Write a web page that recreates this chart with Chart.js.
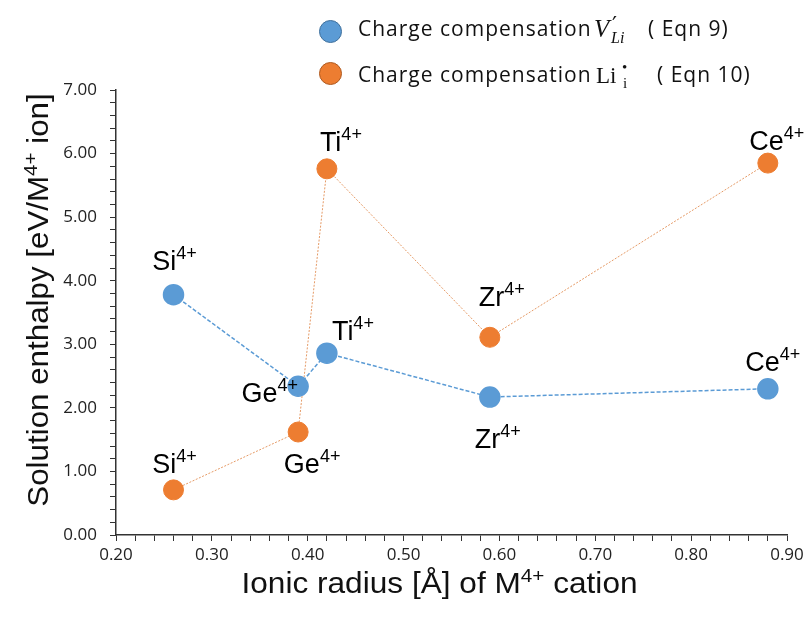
<!DOCTYPE html>
<html><head><meta charset="utf-8">
<script src="https://cdn.jsdelivr.net/npm/chart.js@4.4.1/dist/chart.umd.min.js"></script>
<style>
html,body{margin:0;padding:0;background:#fff;}
#wrap{position:relative;width:808px;height:623px;overflow:hidden;background:#fff;}
canvas{position:absolute;left:0;top:0;}
.lg{position:absolute;font-family:"Open Sans";font-size:21px;color:#111;white-space:nowrap;line-height:1;letter-spacing:1px;}
.dot{position:absolute;width:23px;height:23px;border-radius:50%;box-sizing:border-box;}
.m{position:absolute;font-family:"Liberation Serif";color:#111;white-space:nowrap;line-height:1;}
</style></head>
<body><div id="wrap"><canvas id="c" width="808" height="623"></canvas>
<div class="dot" style="left:319px;top:20px;background:#5B9BD5;border:1px solid #41719C;"></div>
<div class="dot" style="left:319px;top:62px;background:#ED7D31;border:1px solid #AE5A21;"></div>
<div class="lg" style="left:358px;top:18px;">Charge compensation</div>
<div class="m" style="left:594px;top:16px;font-size:25px;font-style:italic;">V</div>
<div class="m" style="left:612px;top:14px;font-size:22px;font-family:'DejaVu Sans';">′</div>
<div class="m" style="left:611px;top:30px;font-size:16px;font-style:italic;">Li</div>
<div class="lg" style="left:648px;top:18px;">( Eqn 9)</div>
<div class="lg" style="left:358px;top:64px;">Charge compensation</div>
<div class="m" style="left:596px;top:64px;font-size:23px;">Li</div>
<div class="m" style="left:623px;top:76px;font-size:15px;">i</div>
<div class="m" style="left:622px;top:60px;font-size:15px;">•</div>
<div class="lg" style="left:657px;top:64px;">( Eqn 10)</div>
</div>
<script>
// ---- data ----
const ions = ['Si', 'Ge', 'Ti', 'Zr', 'Ce'];
const ionicRadius = [0.26, 0.39, 0.42, 0.59, 0.88];
const enthalpyVacancy = [3.78, 2.34, 2.86, 2.17, 2.30];      // Eqn 9
const enthalpyInterstitial = [0.71, 1.62, 5.76, 3.11, 5.85]; // Eqn 10
const xTickMin = 0.2, xTickMax = 0.9, xMajorStep = 0.1, xMinorStep = 0.02;
const yTickMin = 0, yTickMax = 7, yMajorStep = 1, yMinorStep = 0.2;

// label placement (style only): [dx, dy, align]
const vacLabelPos = [[1,-25,'center'],[0,16,'right'],[5,-13,'left'],[8,51,'center'],[5,-18,'center']];
const intLabelPos = [[1,-17,'center'],[14,41,'center'],[14,-18,'center'],[12,-31,'center'],[9,-13,'center']];

const toPts = (xs, ys) => xs.map((x, i) => ({x, y: ys[i]}));
const isMajor = (v, step) => Math.abs(v / step - Math.round(v / step)) < 1e-6;

function drawRich(ctx, parts, x, y, align, sx) {
  let w = 0;
  parts.forEach(p => { ctx.font = p.font; p.w = ctx.measureText(p.t).width; w += p.w; });
  w *= sx;
  let start = align === 'center' ? x - w / 2 : align === 'right' ? x - w : x;
  ctx.save();
  ctx.translate(start, y);
  ctx.scale(sx, 1);
  let cx = 0;
  parts.forEach(p => {
    ctx.font = p.font; ctx.textAlign = 'left'; ctx.textBaseline = 'alphabetic';
    ctx.fillText(p.t, cx, p.dy || 0); cx += p.w;
  });
  ctx.restore();
}
const ionParts = (name) => [
  {t: name, font: '27px "Liberation Sans"'},
  {t: '4+', font: '18px "Liberation Sans"', dy: -11}
];

const overlay = {
  id: 'overlay',
  afterDraw(chart) {
    const ctx = chart.ctx;
    ctx.fillStyle = '#000';
    [vacLabelPos, intLabelPos].forEach((pos, di) => {
      const meta = chart.getDatasetMeta(di);
      meta.data.forEach((el, i) => {
        const [dx, dy, al] = pos[i];
        drawRich(ctx, ionParts(ions[i]), el.x + dx, el.y + dy, al, 1);
      });
    });
    const ca = chart.chartArea;
    ctx.fillStyle = '#111';
    // x title
    drawRich(ctx, [
      {t: 'Ionic radius [Å] of M', font: '29px "Liberation Sans"'},
      {t: '4+', font: '19px "Liberation Sans"', dy: -11},
      {t: ' cation', font: '29px "Liberation Sans"'}
    ], (ca.left + ca.right) / 2 - 12, 593, 'center', 1.09);
    // y title
    ctx.save();
    ctx.translate(48, 300);
    ctx.rotate(-Math.PI / 2);
    drawRich(ctx, [
      {t: 'Solution enthalpy [eV/M', font: '29px "Liberation Sans"'},
      {t: '4+', font: '19px "Liberation Sans"', dy: -11},
      {t: ' ion]', font: '29px "Liberation Sans"'}
    ], 0, 0, 'center', 1.08);
    ctx.restore();
  }
};

const tickFont = {family: '"Open Sans"', size: 17};
new Chart(document.getElementById('c'), {
  type: 'scatter',
  data: {
    datasets: [
      {
        label: 'Charge compensation V′Li (Eqn 9)',
        data: toPts(ionicRadius, enthalpyVacancy),
        showLine: true,
        borderColor: '#5B9BD5',
        borderWidth: 1.5,
        borderDash: [4, 2],
        backgroundColor: '#5B9BD5',
        pointBackgroundColor: '#5B9BD5',
        pointBorderColor: '#5B9BD5',
        pointRadius: 10,
        pointHoverRadius: 10
      },
      {
        label: 'Charge compensation Li•i (Eqn 10)',
        data: toPts(ionicRadius, enthalpyInterstitial),
        showLine: true,
        borderColor: '#E59A66',
        borderWidth: 1,
        borderDash: [2, 1.5],
        backgroundColor: '#ED7D31',
        pointBackgroundColor: '#ED7D31',
        pointBorderColor: '#ED7D31',
        pointRadius: 10,
        pointHoverRadius: 10
      }
    ]
  },
  options: {
    responsive: false,
    animation: false,
    layout: {padding: {left: 0, right: 21, top: 90, bottom: 58}},
    plugins: {legend: {display: false}, tooltip: {enabled: false}},
    scales: {
      x: {
        type: 'linear', min: xTickMin, max: xTickMax,
        afterFit: s => { s.height = 30; },
        border: {display: true, color: '#333', width: 1.5},
        grid: {drawOnChartArea: false, drawTicks: true, tickLength: 6, color: '#333', lineWidth: 1},
        ticks: {
          stepSize: xMinorStep, autoSkip: false, maxRotation: 0, padding: 4,
          color: '#222', font: tickFont,
          callback: v => isMajor(v, xMajorStep) ? v.toFixed(2) : ''
        }
      },
      y: {
        type: 'linear', min: yTickMin, max: yTickMax,
        afterFit: s => { s.width = 116; },
        border: {display: true, color: '#333', width: 1.5},
        grid: {drawOnChartArea: false, drawTicks: true, tickLength: 6, color: '#333', lineWidth: 1},
        ticks: {
          stepSize: yMinorStep, autoSkip: false, padding: 13,
          color: '#222', font: tickFont,
          callback: v => isMajor(v, yMajorStep) ? v.toFixed(2) : ''
        }
      }
    }
  },
  plugins: [overlay]
});
</script>
</body></html>
